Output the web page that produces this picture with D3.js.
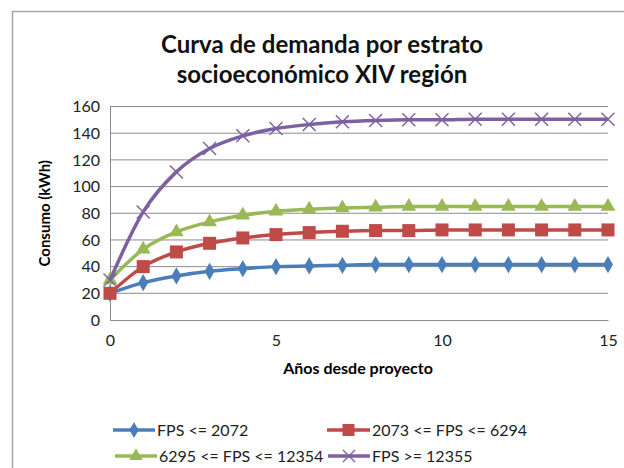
<!DOCTYPE html>
<html><head><meta charset="utf-8">
<script src="https://cdn.jsdelivr.net/npm/d3@7"></script>
<style>body{margin:0;background:#fff}svg{display:block}text{font-family:Lato,"Open Sans",sans-serif}</style>
</head><body>
<script>
const years = [0,1,2,3,4,5,6,7,8,9,10,11,12,13,14,15];
const s1 = [20,28,33,36.5,38.5,40,40.5,41,41.5,41.5,41.5,41.5,41.5,41.5,41.5,41.5];
const s2 = [20,40,51,57.5,61.5,64,65.5,66.5,67,67,67.5,67.5,67.5,67.5,67.5,67.5];
const s3 = [30,53,66,73.5,78.5,81.5,83,84,84.5,85,85,85,85,85,85,85];
const s4 = [30,81,111,128.5,138,143.5,146.5,148.5,149.5,150,150,150.5,150.5,150.5,150.5,150.5];
const seriesNames = ["FPS <= 2072","2073 <= FPS <= 6294","6295 <= FPS <= 12354","FPS >= 12355"];
const yTicks = [0,20,40,60,80,100,120,140,160];
const xTicks = [0,5,10,15];
const titleLines = ["Curva de demanda por estrato","socioeconómico XIV región"];

const colors = ["#4a7ebb","#be4b48","#98b954","#7d60a0"];
const markers = ["diamond","square","triangle","x"];
const data = [s1,s2,s3,s4];

const W=624,H=468;
const svg = d3.select("body").append("svg").attr("width",W).attr("height",H);
svg.append("rect").attr("width",W).attr("height",H).attr("fill","#fff");
svg.append("path").attr("d","M12.5,480 V11.5 H624").attr("fill","none").attr("stroke","#a6a6a6").attr("stroke-width",1.5);

const x = d3.scaleLinear().domain([0,15]).range([110,608]);
const y = d3.scaleLinear().domain([0,160]).range([320,106.5]);

svg.append("text").attr("text-anchor","middle")
  .attr("font-size",24).attr("font-weight","bold").attr("fill","#111")
  .selectAll("tspan").data(titleLines).join("tspan").attr("x",322).attr("y",(d,i)=>53+i*30).text(d=>d);

svg.append("g").selectAll("line").data(yTicks.filter(d=>d>0)).join("line")
  .attr("x1",x(0)).attr("x2",x(15)).attr("y1",d=>y(d)).attr("y2",d=>y(d))
  .attr("stroke","#8c8c8c").attr("stroke-width",1);

const yAxis = svg.append("g").attr("transform",`translate(${x(0)},0)`)
  .call(d3.axisLeft(y).tickValues(yTicks).tickSize(0).tickPadding(10));
yAxis.select(".domain").attr("stroke","#8c8c8c");
yAxis.selectAll("text").attr("font-size",16).attr("fill","#222").attr("font-family","Lato");
const xAxis = svg.append("g").attr("transform",`translate(0,${y(0)})`)
  .call(d3.axisBottom(x).tickValues(xTicks).tickSize(0).tickPadding(15));
xAxis.select(".domain").attr("stroke","#8c8c8c");
xAxis.selectAll("text").attr("font-size",16).attr("fill","#222").attr("font-family","Lato");

svg.append("text").attr("transform",`translate(50,${(y(0)+y(160))/2}) rotate(-90)`)
  .attr("text-anchor","middle").attr("font-size",15).attr("font-weight","bold").text("Consumo (kWh)");
svg.append("text").attr("x",358).attr("y",374).attr("text-anchor","middle")
  .attr("font-size",16).attr("font-weight","bold").text("Años desde proyecto");

function drawMarker(g,type,color,size){
  if(type==="diamond") g.append("path").attr("d",d3.symbol(d3.symbolDiamond,size*size*0.6)()).attr("fill",color);
  else if(type==="square") g.append("rect").attr("x",-size/2).attr("y",-size/2).attr("width",size).attr("height",size).attr("fill",color);
  else if(type==="triangle") g.append("path").attr("d",d3.symbol(d3.symbolTriangle,size*size*0.55)()).attr("fill",color);
  else { const r=size/2; g.append("path").attr("d",`M${-r},${-r}L${r},${r}M${-r},${r}L${r},${-r}`).attr("stroke",color).attr("stroke-width",1.4).attr("fill","none"); }
}

const line = d3.line().x((d,i)=>x(years[i])).y(d=>y(d)).curve(d3.curveMonotoneX);
data.forEach((s,k)=>{
  const g = svg.append("g");
  g.append("path").attr("d",line(s)).attr("fill","none").attr("stroke",colors[k]).attr("stroke-width",3.5);
  s.forEach((v,i)=>{
    const m = g.append("g").attr("transform",`translate(${x(years[i])},${y(v)})`);
    drawMarker(m,markers[k],colors[k],k===0?12:13);
  });
});

const legendPos = [[113,430],[327,430],[115,456],[328,456]];
const legendLen = [42,43,42,42];
seriesNames.forEach((n,k)=>{
  const [lx,ly] = legendPos[k];
  const g = svg.append("g");
  g.append("line").attr("x1",lx).attr("x2",lx+legendLen[k]).attr("y1",ly).attr("y2",ly).attr("stroke",colors[k]).attr("stroke-width",3.5);
  const m = g.append("g").attr("transform",`translate(${lx+legendLen[k]/2},${ly})`);
  drawMarker(m,markers[k],colors[k],k===0?11:12);
  g.append("text").attr("x",lx+legendLen[k]+2).attr("y",ly+5.5).attr("font-size",16).attr("fill","#222").text(n);
});
</script>
</body></html>
